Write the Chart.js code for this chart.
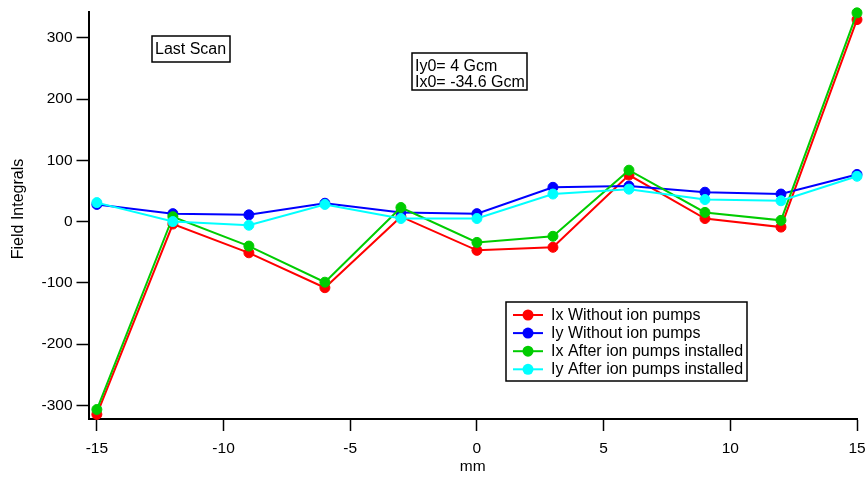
<!DOCTYPE html>
<html lang="en">
<head>
  <meta charset="UTF-8" />
  <title>Field Integrals</title>
  <script src="https://cdn.jsdelivr.net/npm/chart.js@4"></script>
  <style>
    body {
      margin: 0;
      padding: 0;
      background-color: #ffffff;
    }
    .wrap {
      width: 866px;
      height: 477px;
    }
  </style>
</head>
<body>
  <div class="wrap">
    <canvas id="fieldChart" width="866" height="477"></canvas>
  </div>

  <script>
    // positions along the scan (mm)
    const positions = [-15, -12, -9, -6, -3, 0, 3, 6, 9, 12, 15];

    const ixWithout = [-315, -4, -51, -108, 8, -47, -42, 76, 5, -9, 330];
    const iyWithout = [28, 13, 11, 30, 15, 13, 56, 58, 48, 45, 77];
    const ixAfter = [-307, 8, -40, -99, 23, -34, -24, 84, 15, 2, 341];
    const iyAfter = [31, 0, -6, 28, 5, 5, 45, 53, 36, 34, 74];

    const seriesNames = [
      'Ix Without ion pumps',
      'Iy Without ion pumps',
      'Ix After ion pumps installed',
      'Iy After ion pumps installed'
    ];
    const seriesColors = ['#ff0000', '#0000ff', '#00cc00', '#00ffff'];

    const xTicks = [-15, -10, -5, 0, 5, 10, 15];
    const yTicks = [-300, -200, -100, 0, 100, 200, 300];

    const yTitle = 'Field Integrals';
    const scanNote = 'Last Scan';
    const offsetNotes = ['Iy0= 4 Gcm', 'Ix0= -34.6 Gcm'];

    const FONT = '"Liberation Sans", Arial, sans-serif';

    function toPoints(values) {
      return positions.map((x, i) => ({ x: x, y: values[i] }));
    }

    const allSeries = [ixWithout, iyWithout, ixAfter, iyAfter];
    const datasets = allSeries.map((vals, i) => ({
      label: seriesNames[i],
      data: toPoints(vals),
      borderColor: seriesColors[i],
      backgroundColor: seriesColors[i],
      pointBackgroundColor: seriesColors[i],
      pointBorderColor: seriesColors[i],
      borderWidth: 2,
      pointRadius: 5,
      pointBorderWidth: 1,
      tension: 0,
      clip: false,
      order: allSeries.length - i
    }));

    // text boxes, y title and the boxed legend, Igor style
    const notesPlugin = {
      id: 'notes',
      afterDraw(chart) {
        const ctx = chart.ctx;
        ctx.save();
        ctx.font = '16px ' + FONT;
        ctx.fillStyle = '#000';
        ctx.strokeStyle = '#000';
        ctx.lineWidth = 1.5;
        ctx.textBaseline = 'middle';

        ctx.save();
        ctx.translate(18.5, 209);
        ctx.rotate(-Math.PI / 2);
        ctx.textAlign = 'center';
        ctx.fillText(yTitle, 0, 0);
        ctx.restore();

        ctx.strokeRect(152, 36, 78, 26);
        ctx.fillText(scanNote, 155, 49.5);

        ctx.strokeRect(412, 53, 115, 37);
        ctx.fillText(offsetNotes[0], 415, 66.5);
        ctx.fillText(offsetNotes[1], 415, 83);

        ctx.strokeRect(506, 302, 241, 79);
        chart.data.datasets.forEach((ds, i) => {
          const y = 315 + i * 18.1;
          ctx.strokeStyle = ds.borderColor;
          ctx.lineWidth = 2;
          ctx.beginPath();
          ctx.moveTo(513, y);
          ctx.lineTo(543, y);
          ctx.stroke();
          ctx.fillStyle = ds.borderColor;
          ctx.beginPath();
          ctx.arc(528, y, 5.5, 0, Math.PI * 2);
          ctx.fill();
          ctx.fillStyle = '#000';
          ctx.fillText(ds.label, 551, y + 0.5);
        });
        ctx.restore();
      }
    };

    const ctx = document.getElementById('fieldChart').getContext('2d');
    new Chart(ctx, {
      type: 'line',
      data: { datasets },
      options: {
        responsive: false,
        animation: false,
        layout: { padding: { left: 0, right: 9, top: 12, bottom: 0 } },
        plugins: {
          legend: { display: false },
          tooltip: { enabled: false }
        },
        scales: {
          x: {
            type: 'linear',
            min: -15.33,
            max: 15,
            afterBuildTicks: scale => { scale.ticks = xTicks.map(v => ({ value: v })); },
            afterFit: scale => {
              scale.height = 58;
              scale.paddingLeft = 0;
              scale.paddingRight = 0;
            },
            grid: { drawOnChartArea: false, drawTicks: true, tickLength: 12, tickColor: '#000', tickWidth: 1.5 },
            border: { display: true, color: '#000', width: 2 },
            ticks: { color: '#000', font: { family: FONT, size: 15.5 }, padding: 8, maxRotation: 0 },
            title: { display: true, text: 'mm', color: '#000', font: { family: FONT, size: 15.5 }, padding: { top: 0, bottom: 1 } }
          },
          y: {
            min: -322.5,
            max: 342.4,
            afterBuildTicks: scale => { scale.ticks = yTicks.map(v => ({ value: v })); },
            afterFit: scale => {
              scale.width = 88.5;
              scale.paddingTop = 0;
              scale.paddingBottom = 0;
            },
            grid: { drawOnChartArea: false, drawTicks: true, tickLength: 12, tickColor: '#000', tickWidth: 1.5 },
            border: { display: true, color: '#000', width: 2 },
            ticks: { color: '#000', font: { family: FONT, size: 15.5 }, padding: 4 }
          }
        }
      },
      plugins: [notesPlugin]
    });
  </script>
</body>
</html>
